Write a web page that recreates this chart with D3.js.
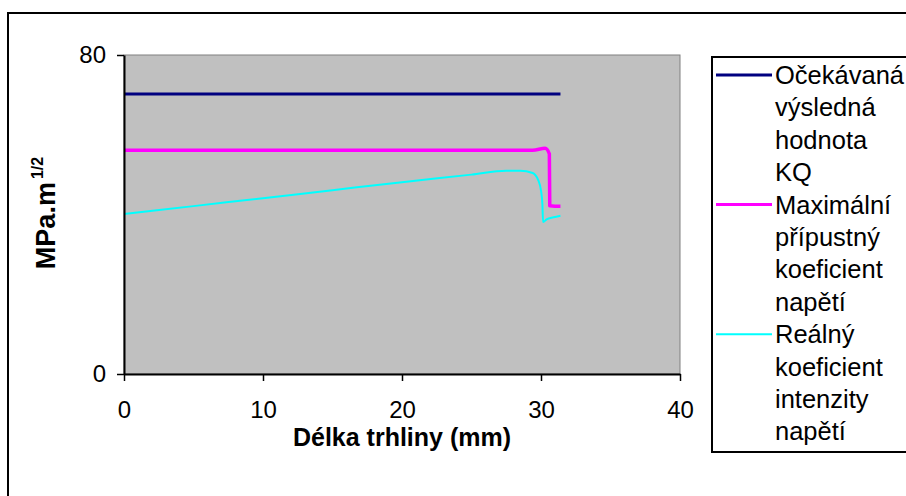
<!DOCTYPE html>
<html>
<head>
<meta charset="utf-8">
<script src="https://cdn.jsdelivr.net/npm/d3@7"></script>
<style>
  body { margin: 0; background: #fff; }
  svg { display: block; font-family: "Liberation Sans", Arial, sans-serif; }
</style>
</head>
<body>
<svg id="chart" width="906" height="496"></svg>
<script>
// crack length (mm) and values (MPa.m^1/2)
const xTicks = [0, 10, 20, 30, 40];
const yTicks = [0, 80];

const expectedLen = [0, 5, 10, 15, 20, 25, 29.4, 30.1, 30.6, 31.4];
const expectedKQ = [70.2, 70.2, 70.2, 70.2, 70.2, 70.2, 70.2, 70.2, 70.2, 70.2];

const maxLen = [0, 5, 10, 15, 20, 25, 29.4, 30.3, 30.6, 30.63, 31.0, 31.4];
const maxK = [56.1, 56.1, 56.1, 56.1, 56.1, 56.1, 56.1, 56.6, 55.2, 42.2, 42.1, 42.1];

const realLen = [0, 5, 10, 15, 20, 25, 27.5, 28.5, 29.4, 29.8, 30.0, 30.1, 30.15, 30.4, 30.9, 31.4];
const realK = [40.1, 42.1, 44.1, 46.1, 48.1, 50.0, 51.0, 51.0, 50.4, 48.6, 46.0, 42.5, 38.1, 38.8, 39.3, 39.7];

const legendLines = [
  ['Očekávaná', 'výsledná', 'hodnota', 'KQ'],
  ['Maximální', 'přípustný', 'koeficient', 'napětí'],
  ['Reálný', 'koeficient', 'intenzity', 'napětí']
];
const colors = ['#000080', '#ff00ff', '#00ffff'];
const widths = [3, 3.5, 2];

const svg = d3.select('#chart');
const plot = { left: 124, right: 680, top: 55, bottom: 374 };

// outer chart frame (cut off on the right and bottom)
svg.append('rect')
  .attr('x', 8).attr('y', 13)
  .attr('width', 1000).attr('height', 600)
  .attr('fill', 'none').attr('stroke', '#000').attr('stroke-width', 2);

const xScale = d3.scaleLinear().domain([0, 40]).range([plot.left, plot.right]);
const yScale = d3.scaleLinear().domain([0, 80]).range([plot.bottom, plot.top]);

// plot area
svg.append('rect')
  .attr('x', plot.left).attr('y', plot.top)
  .attr('width', plot.right - plot.left).attr('height', plot.bottom - plot.top)
  .attr('fill', '#c0c0c0').attr('stroke', '#808080').attr('stroke-width', 1);

const data = [
  expectedLen.map((x, i) => ({ x, y: expectedKQ[i] })),
  maxLen.map((x, i) => ({ x, y: maxK[i] })),
  realLen.map((x, i) => ({ x, y: realK[i] }))
];

const line = d3.line()
  .x(d => xScale(d.x))
  .y(d => yScale(d.y))
  .curve(d3.curveMonotoneX);

svg.selectAll('path.series')
  .data(data)
  .join('path')
  .attr('class', 'series')
  .attr('d', line)
  .attr('fill', 'none')
  .attr('stroke', (d, i) => colors[i])
  .attr('stroke-width', (d, i) => widths[i])
  .attr('stroke-linejoin', 'round');

// axes
const xAxis = d3.axisBottom(xScale).tickValues(xTicks).tickSize(7).tickPadding(20).tickSizeOuter(0);
const yAxis = d3.axisLeft(yScale).tickValues(yTicks).tickSize(7).tickPadding(11).tickSizeOuter(0);

const gx = svg.append('g')
  .attr('transform', `translate(0,${plot.bottom})`)
  .call(xAxis);
const gy = svg.append('g')
  .attr('transform', `translate(${plot.left},0)`)
  .call(yAxis);

[gx, gy].forEach(g => {
  g.select('.domain').attr('stroke', '#000').attr('stroke-width', 2);
  g.selectAll('.tick line').attr('stroke', '#000').attr('stroke-width', 1.5);
  g.selectAll('.tick text')
    .attr('fill', '#000')
    .style('font-family', '"Liberation Sans", Arial, sans-serif')
    .style('font-size', '24px');
});

// axis titles
svg.append('text')
  .attr('x', (plot.left + plot.right) / 2)
  .attr('y', 446)
  .attr('text-anchor', 'middle')
  .style('font-size', '25px')
  .style('font-weight', 'bold')
  .text('Délka trhliny (mm)');

const yTitle = svg.append('text')
  .attr('transform', `translate(55,213) rotate(-90)`)
  .attr('text-anchor', 'middle')
  .style('font-size', '27px')
  .style('font-weight', 'bold');
yTitle.append('tspan').text('MPa.m');
yTitle.append('tspan').attr('dx', 3).attr('dy', -12).style('font-size', '16px').text('1/2');

// legend
const legend = svg.append('g');
legend.append('rect')
  .attr('x', 712).attr('y', 57)
  .attr('width', 300).attr('height', 395)
  .attr('fill', '#fff').attr('stroke', '#000').attr('stroke-width', 2);

const rowH = 32.4;
legendLines.forEach((rows, i) => {
  const y0 = 75 + i * 4 * rowH;
  legend.append('line')
    .attr('x1', 716).attr('x2', 772)
    .attr('y1', y0).attr('y2', y0)
    .attr('stroke', colors[i]).attr('stroke-width', widths[i] === 2 ? 2 : 3);
  rows.forEach((t, j) => {
    legend.append('text')
      .attr('x', 775)
      .attr('y', y0 + 9 + j * rowH)
      .style('font-size', '25.5px')
      .text(t);
  });
});
</script>
</body>
</html>
